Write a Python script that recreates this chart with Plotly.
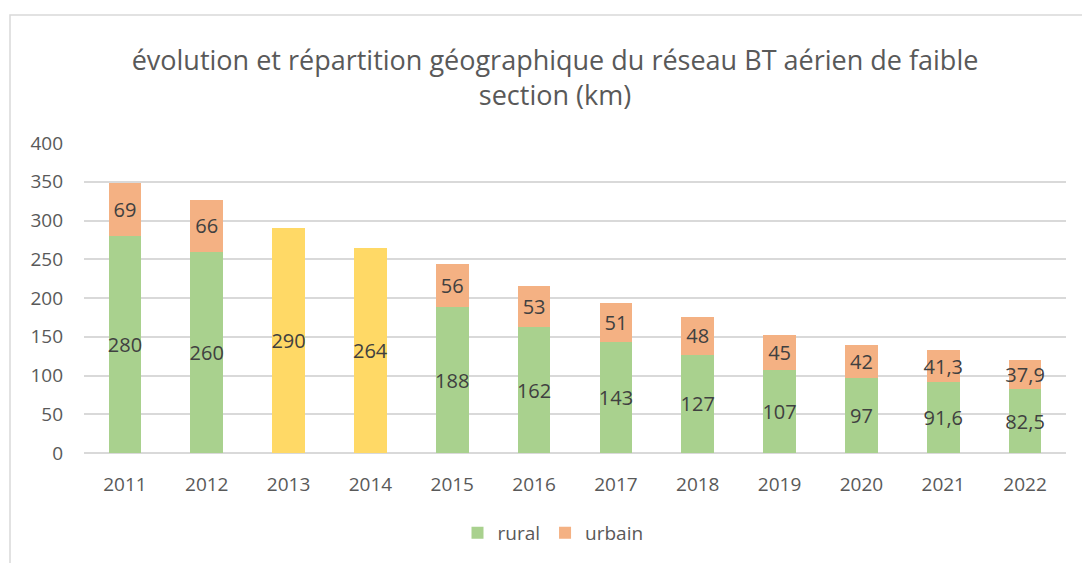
import plotly.graph_objects as go

years = ["2011", "2012", "2013", "2014", "2015", "2016", "2017", "2018", "2019", "2020", "2021", "2022"]
rural = [280, 260, None, None, 188, 162, 143, 127, 107, 97, 91.6, 82.5]
urbain = [69, 66, None, None, 56, 53, 51, 48, 45, 42, 41.3, 37.9]
total_non_reparti = [None, None, 290, 264, None, None, None, None, None, None, None, None]

def fmt(vals):
    out = []
    for v in vals:
        if v is None:
            out.append("")
        elif float(v).is_integer():
            out.append(str(int(v)))
        else:
            out.append(str(v).replace(".", ","))
    return out

GREEN = "#A9D18E"
ORANGE = "#F4B183"
YELLOW = "#FFD966"
TXT = "#404040"
GREY = "#595959"
FONT = "Open Sans"

# page body has an 8px default margin: figure is drawn at (8, 8)
W, H = 1082, 555
OFF = 8

def bar(y, name, color, legend=True):
    return go.Bar(x=years, y=y, name=name, marker=dict(color=color, line=dict(width=0)),
                  showlegend=legend,
                  text=fmt(y), textposition="inside", insidetextanchor="middle",
                  textangle=0, constraintext="none",
                  textfont=dict(size=20, color=TXT, family=FONT), hoverinfo="x+y")

fig = go.Figure()
fig.add_trace(bar(rural, "rural", GREEN))
fig.add_trace(bar(urbain, "urbain", ORANGE))
fig.add_trace(bar(total_non_reparti, "total", YELLOW, legend=False))

l, t = 84 - OFF, 143 - OFF
r = (OFF + W) - 1066
b = (OFF + H) - 453
pw, ph = W - l - r, H - t - b

fig.update_layout(
    barmode="stack",
    bargap=0.6,
    width=W, height=H,
    margin=dict(l=l, r=r, t=t, b=b, autoexpand=False),
    paper_bgcolor="white", plot_bgcolor="white",
    font=dict(family=FONT, color=GREY),
    uniformtext=dict(minsize=20, mode="show"),
    title=dict(text="évolution et répartition géographique du réseau BT aérien de faible<br>section (km)",
               x=(555 - OFF) / W, xanchor="center", y=(H - (70 - OFF)) / H, yanchor="middle",
               font=dict(size=27, color=GREY, family=FONT)),
    legend=dict(orientation="h", x=(553 - OFF - l) / pw, xanchor="center",
                y=(453 - 533) / ph, yanchor="middle",
                font=dict(size=19, color=GREY, family=FONT), traceorder="normal"),
    xaxis=dict(showgrid=False, showline=False, ticks="", tickfont=dict(size=19, color=GREY),
               range=[-0.5, 11.5], ticklabelstandoff=18),
    yaxis=dict(range=[0, 400], dtick=50, gridcolor="#D9D9D9", gridwidth=1.5,
               zeroline=True, zerolinecolor="#D9D9D9", zerolinewidth=1.5,
               showline=False, ticks="", tickfont=dict(size=19, color=GREY),
               ticklabelstandoff=20),
    shapes=[dict(type="rect", xref="paper", yref="paper",
                 x0=(10 - 84) / pw, x1=1.2, y0=-0.6, y1=(453 - 15) / ph,
                 line=dict(color="#D9D9D9", width=1.5), fillcolor="rgba(0,0,0,0)", layer="below")],
)

fig.write_html("out.html")
